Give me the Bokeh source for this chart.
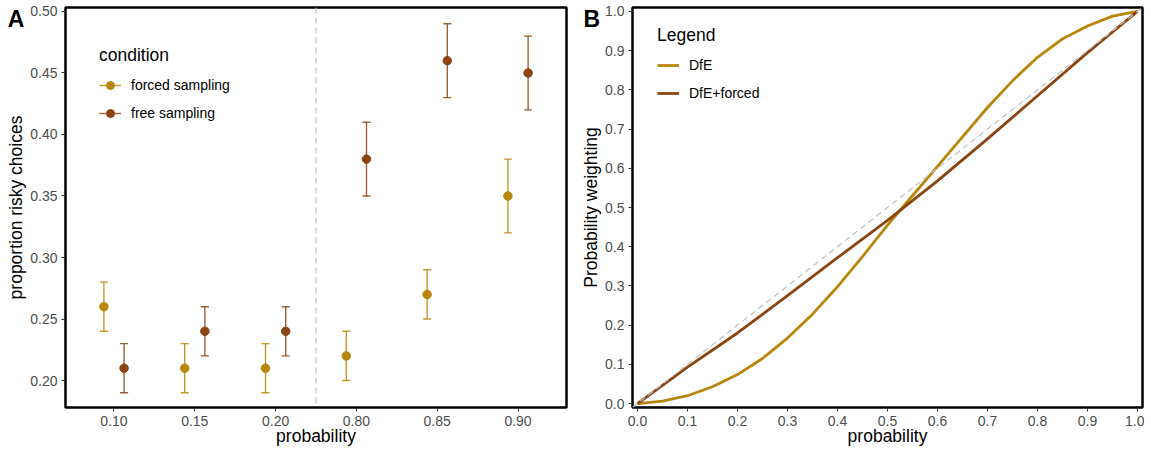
from bokeh.plotting import figure
from bokeh.models import (FactorRange, Range1d, Span, Legend, LegendItem, Label,
                          FixedTicker, NumeralTickFormatter, ColumnDataSource, Slope)
from bokeh.transform import dodge
from bokeh.layouts import row
from bokeh.embed import file_html
from bokeh.resources import INLINE

# ---------------- data: panel A ----------------
probabilities = ["0.10", "0.15", "0.20", "0.80", "0.85", "0.90"]
forced_mean = [0.26, 0.21, 0.21, 0.22, 0.27, 0.35]
forced_lo = [0.24, 0.19, 0.19, 0.20, 0.25, 0.32]
forced_hi = [0.28, 0.23, 0.23, 0.24, 0.29, 0.38]
free_mean = [0.21, 0.24, 0.24, 0.38, 0.46, 0.45]
free_lo = [0.19, 0.22, 0.22, 0.35, 0.43, 0.42]
free_hi = [0.23, 0.26, 0.26, 0.41, 0.49, 0.48]
yticks_a = [0.20, 0.25, 0.30, 0.35, 0.40, 0.45, 0.50]

# ---------------- data: panel B ----------------
p_dfe = [0.0, 0.05, 0.10, 0.15, 0.20, 0.25, 0.30, 0.35, 0.40, 0.45, 0.50,
         0.55, 0.60, 0.65, 0.70, 0.75, 0.80, 0.85, 0.90, 0.95, 1.0]
w_dfe = [0.0, 0.006, 0.020, 0.043, 0.074, 0.115, 0.167, 0.228, 0.298, 0.375, 0.455,
         0.530, 0.605, 0.680, 0.755, 0.823, 0.883, 0.930, 0.963, 0.988, 1.0]
p_forced = [0.0, 0.10, 0.20, 0.30, 0.40, 0.50, 0.60, 0.70, 0.80, 0.90, 1.0]
w_forced = [0.0, 0.093, 0.180, 0.275, 0.372, 0.467, 0.568, 0.675, 0.785, 0.895, 1.0]
ticks_b = [0.0, 0.1, 0.2, 0.3, 0.4, 0.5, 0.6, 0.7, 0.8, 0.9, 1.0]

FONT = "Liberation Sans"
GOLD = "#B8860B"
BROWN = "#8B4513"
GREY_DASH = "#BEBEBE"
TOP = 40  # room above the frame for the panel letters (hidden by negative margin)


def style(p):
    p.grid.visible = False
    p.outline_line_color = "black"
    p.outline_line_width = 2.5
    p.background_fill_color = "white"
    p.border_fill_color = "white"
    for ax in (p.xaxis[0], p.yaxis[0]):
        ax.axis_line_color = None
        ax.major_tick_line_color = "#333333"
        ax.major_tick_line_width = 1
        ax.major_tick_out = 4
        ax.major_tick_in = 0
        ax.minor_tick_line_color = None
        ax.major_label_text_font = FONT
        ax.major_label_text_font_size = "14px"
        ax.major_label_text_color = "#4D4D4D"
        ax.major_label_standoff = 4
        ax.axis_label_text_font = FONT
        ax.axis_label_text_font_size = "17.5px"
        ax.axis_label_text_font_style = "normal"
        ax.axis_label_text_color = "black"
    p.xaxis[0].axis_label_standoff = -3
    p.yaxis[0].axis_label_standoff = 1


def legend_style(lg):
    lg.padding = 0
    lg.margin = 0
    lg.spacing = 8
    lg.glyph_height = 20
    lg.glyph_width = 22
    lg.label_height = 20
    lg.label_standoff = 10
    lg.title_standoff = 9
    lg.border_line_color = None
    lg.background_fill_alpha = 0
    lg.title_text_font = FONT
    lg.title_text_font_size = "17.5px"
    lg.title_text_font_style = "normal"
    lg.title_text_color = "black"
    lg.label_text_font = FONT
    lg.label_text_font_size = "14px"
    lg.label_text_color = "black"


# ---------------- panel A ----------------
xr = FactorRange(factors=probabilities, range_padding=0.1, range_padding_units="absolute")
pA = figure(width=575, height=452 + TOP - 7, x_range=xr, y_range=Range1d(0.17805, 0.50325),
            output_backend="svg", toolbar_location=None,
            min_border_left=65, min_border_right=9, min_border_top=TOP, min_border_bottom=45)
pA.margin = (7 - TOP, 0, 0, 0)
style(pA)
pA.xaxis.axis_label = "probability"
pA.yaxis.axis_label = "proportion risky choices"
pA.yaxis.ticker = FixedTicker(ticks=yticks_a)
pA.yaxis.formatter = NumeralTickFormatter(format="0.00")

pA.add_layout(Span(location=3, dimension="height", line_color=GREY_DASH,
                   line_width=1.2, line_dash="6 4"))

items = []
for name, mean, lo, hi, color, off in [
        ("forced sampling", forced_mean, forced_lo, forced_hi, GOLD, -0.125),
        ("free sampling", free_mean, free_lo, free_hi, BROWN, 0.125)]:
    src = ColumnDataSource(dict(prob=probabilities, mean=mean, lo=lo, hi=hi))
    xc = dodge("prob", off, range=xr)
    xl = dodge("prob", off - 0.05, range=xr)
    xh = dodge("prob", off + 0.05, range=xr)
    bar = pA.segment(x0=xc, y0="lo", x1=xc, y1="hi", source=src,
                     line_color=color, line_alpha=0.85, line_width=1.4)
    pA.segment(x0=xl, y0="lo", x1=xh, y1="lo", source=src,
               line_color=color, line_alpha=0.85, line_width=1.4)
    pA.segment(x0=xl, y0="hi", x1=xh, y1="hi", source=src,
               line_color=color, line_alpha=0.85, line_width=1.4)
    pt = pA.scatter(x=xc, y="mean", source=src, size=8.5, fill_color=color,
                    line_color=color)
    items.append(LegendItem(label=name, renderers=[bar, pt]))

legA = Legend(items=items, location=(34, 284), title="condition")
legend_style(legA)
pA.add_layout(legA)
pA.add_layout(Label(x=-0.815, y=0.4943, text="A",
                    text_font=FONT, text_font_style="bold", text_font_size="23px",
                    text_baseline="middle", text_color="black"), "above")

# ---------------- panel B ----------------
pB = figure(width=569, height=452 + TOP - 7, x_range=Range1d(-0.01, 1.01),
            y_range=Range1d(-0.01, 1.01),
            output_backend="svg", toolbar_location=None,
            min_border_left=57, min_border_right=2, min_border_top=TOP, min_border_bottom=45)
pB.margin = (7 - TOP, 0, 0, 0)
style(pB)
pB.xaxis.axis_label = "probability"
pB.yaxis.axis_label = "Probability weighting"
pB.xaxis.ticker = FixedTicker(ticks=ticks_b)
pB.yaxis.ticker = FixedTicker(ticks=ticks_b)
pB.xaxis.formatter = NumeralTickFormatter(format="0.0")
pB.yaxis.formatter = NumeralTickFormatter(format="0.0")

r_dfe = pB.line(p_dfe, w_dfe, line_color=GOLD, line_width=2.8, line_join="round")
r_forced = pB.line(p_forced, w_forced, line_color=BROWN, line_width=2.8, line_join="round")
pB.add_layout(Slope(gradient=1, y_intercept=0, line_color=GREY_DASH,
                    line_width=1.2, line_dash="6 4"))

legB = Legend(items=[LegendItem(label="DfE", renderers=[r_dfe]),
                     LegendItem(label="DfE+forced", renderers=[r_forced])],
              location=(25, 304), title="Legend")
legend_style(legB)
pB.add_layout(legB)
pB.add_layout(Label(x=-0.108, y=0.9819, text="B",
                    text_font=FONT, text_font_style="bold", text_font_size="23px",
                    text_baseline="middle", text_color="black"), "above")

layout = row(pA, pB)
open("out.html", "w").write(file_html(layout, INLINE))
